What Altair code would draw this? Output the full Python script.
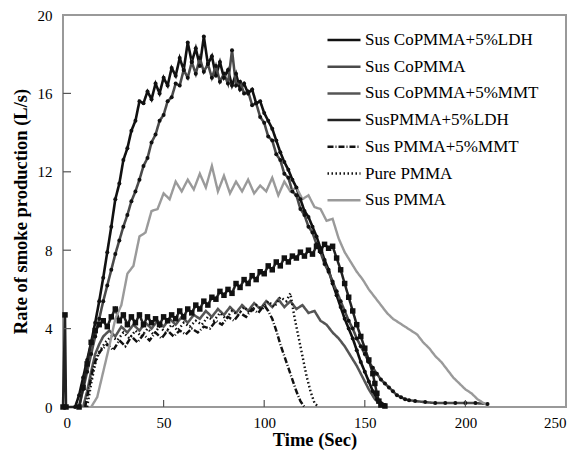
import altair as alt
import pandas as pd

# ---- data ----
series_names = ["Sus CoPMMA+5%LDH", "Sus CoPMMA", "Sus CoPMMA+5%MMT", "SusPMMA+5%LDH",
                "Sus PMMA+5%MMT", "Pure PMMA", "Sus PMMA"]

t_colpmma_ldh = [6, 8, 10, 12, 14, 16, 18, 20, 22, 24, 26, 28, 30, 32, 34, 36, 38, 40, 42, 44, 46, 48, 50,
                 52, 54, 56, 58, 60, 62, 64, 66, 68, 70, 72, 74, 76, 78, 80, 82, 84, 86, 88, 90, 92, 94, 96,
                 98, 100, 102, 104, 106, 108, 110, 112, 114, 116, 118, 120, 122, 124, 126, 128, 130, 132,
                 134, 136, 138, 140, 142, 144, 146, 148, 150, 152, 154, 156, 158, 160]
v_colpmma_ldh = [0, 0.6, 1.5, 2.4, 3.3, 4.3, 5.4, 6.6, 7.9, 9.2, 10.6, 11.4, 12.6, 13.2, 14.1, 14.6, 15.6,
                 15.5, 16.1, 15.7, 16.5, 16.0, 16.8, 16.4, 17.3, 16.9, 17.8, 17.2, 18.6, 17.6, 18.3, 17.4,
                 18.9, 17.5, 17.9, 16.9, 17.6, 16.8, 17.2, 16.4, 17.0, 16.2, 16.5, 16.0, 16.2, 15.5, 15.6,
                 15.0, 14.6, 14.2, 13.6, 13.0, 12.5, 12.1, 11.6, 11.2, 10.6, 10.0, 9.7, 9.2, 8.7, 8.1, 7.5,
                 7.0, 6.3, 5.7, 5.1, 4.5, 4.0, 3.5, 2.9, 2.3, 1.8, 1.3, 0.8, 0.4, 0.2, 0.1]

t_copmma = [8, 10, 12, 14, 16, 18, 20, 22, 24, 26, 28, 30, 32, 34, 36, 38, 40, 42, 44, 46, 48, 50, 52, 54,
            56, 58, 60, 62, 64, 66, 68, 70, 72, 74, 76, 78, 80, 82, 84, 86, 88, 90, 92, 94, 96, 98, 100,
            102, 104, 106, 108, 110, 112, 114, 116, 118, 120, 122, 124, 126, 128, 130, 132, 134, 136, 138,
            140, 142, 144, 146, 148, 150, 152, 154, 156, 158, 160, 162, 164, 166, 168, 170, 172, 175, 180,
            185, 190, 195, 200, 205, 211]
v_copmma = [0, 0.9, 1.8, 2.7, 3.6, 4.5, 5.4, 6.2, 7.0, 7.8, 8.5, 9.2, 9.8, 10.5, 11.0, 11.6, 12.3, 12.7,
            13.5, 13.9, 14.6, 14.9, 15.6, 15.8, 16.5, 16.4, 17.2, 16.8, 17.6, 17.0, 17.8, 17.1, 17.5, 16.8,
            17.4, 16.6, 17.0, 16.5, 18.2, 16.4, 16.6, 16.0, 16.1, 15.4, 15.5, 14.8, 14.5, 13.8, 13.6, 12.9,
            12.6, 11.9, 11.7, 11.0, 10.8, 10.1, 9.8, 9.2, 8.9, 8.3, 7.9, 7.3, 6.9, 6.4, 5.9, 5.4, 4.9, 4.4,
            4.0, 3.5, 3.1, 2.7, 2.3, 2.0, 1.7, 1.4, 1.2, 1.0, 0.8, 0.6, 0.5, 0.4, 0.35, 0.3, 0.25, 0.2, 0.2,
            0.2, 0.2, 0.2, 0.15]

t_copmma_mmt = [10, 12, 14, 16, 18, 20, 23, 26, 29, 32, 35, 38, 41, 44, 47, 50, 53, 56, 59, 62, 65, 68, 71,
                74, 77, 80, 83, 86, 89, 92, 95, 98, 101, 104, 107, 110, 113, 116, 119, 122, 125, 128, 131,
                134, 137, 140, 143, 146, 149, 152, 155, 158, 160]
v_copmma_mmt = [0, 0.8, 1.8, 2.7, 3.2, 3.6, 3.9, 3.6, 4.1, 3.8, 4.2, 3.9, 4.3, 4.0, 4.4, 4.1, 4.5, 4.2, 4.6,
                4.3, 4.7, 4.5, 4.9, 4.6, 5.0, 4.7, 5.1, 4.8, 5.2, 4.9, 5.3, 5.0, 5.4, 5.1, 5.5, 5.1, 5.4,
                5.0, 5.2, 4.8, 4.9, 4.4, 4.2, 3.8, 3.5, 3.1, 2.6, 2.1, 1.5, 0.9, 0.4, 0.1, 0]

t_pmma_ldh = [0, 1, 1.5, 8, 10, 12, 14, 16, 18, 20, 22, 24, 26, 28, 30, 32, 34, 36, 38, 40, 42, 44, 46, 48,
              50, 52, 54, 56, 58, 60, 62, 64, 66, 68, 70, 72, 74, 76, 78, 80, 82, 84, 86, 88, 90, 92, 94,
              96, 98, 100, 102, 104, 106, 108, 110, 112, 114, 116, 118, 120, 122, 124, 126, 128, 130, 132,
              134, 136, 138, 140, 142, 144, 146, 148, 150, 152, 154, 155, 156, 157, 158, 160]
v_pmma_ldh = [0, 4.7, 0, 0, 1.0, 2.2, 3.3, 3.9, 4.2, 4.4, 4.1, 4.6, 5.0, 4.4, 4.7, 4.2, 4.6, 4.3, 4.7, 4.2,
              4.6, 4.3, 4.5, 4.2, 4.6, 4.4, 4.7, 4.5, 4.9, 4.6, 5.0, 4.8, 5.2, 5.0, 5.4, 5.2, 5.6, 5.5, 5.9,
              5.7, 6.0, 5.8, 6.3, 6.1, 6.5, 6.3, 6.7, 6.5, 6.9, 6.8, 7.2, 7.0, 7.4, 7.2, 7.6, 7.4, 7.7, 7.6,
              7.9, 7.7, 8.0, 7.8, 8.2, 8.0, 8.3, 8.1, 8.2, 7.6, 7.0, 6.3, 5.6, 4.9, 4.2, 3.6, 3.0, 2.4, 1.7,
              1.2, 0.7, 0.3, 0.1, 0.05]

t_pmma_mmt = [11, 13, 15, 17, 19, 22, 25, 28, 31, 34, 37, 40, 43, 46, 49, 52, 55, 58, 61, 64, 67, 70, 73,
              76, 79, 82, 85, 88, 91, 94, 97, 100, 102, 104, 106, 108, 110, 112, 114, 116, 118, 120]
v_pmma_mmt = [0, 1.0, 2.0, 2.6, 2.9, 3.2, 2.9, 3.4, 3.1, 3.6, 3.3, 3.7, 3.4, 3.8, 3.5, 3.9, 3.6, 3.9, 3.7,
              4.0, 3.8, 4.1, 4.0, 4.4, 4.2, 4.6, 4.4, 4.8, 4.6, 5.0, 4.8, 5.2, 4.9, 4.5, 3.9, 3.2, 2.6, 2.0,
              1.4, 0.8, 0.3, 0]

t_pure = [12, 14, 16, 18, 21, 24, 27, 30, 33, 36, 39, 42, 45, 48, 51, 54, 57, 60, 63, 66, 69, 72, 75, 78,
          81, 84, 87, 90, 93, 96, 99, 102, 105, 108, 111, 113, 115, 117, 119, 121, 123, 125, 127]
v_pure = [0, 1.2, 2.2, 2.8, 3.3, 3.6, 3.4, 3.8, 3.5, 3.9, 3.6, 4.0, 3.7, 4.1, 3.8, 4.2, 3.9, 4.3, 4.1, 4.4,
          4.2, 4.6, 4.4, 4.8, 4.5, 4.9, 4.7, 5.1, 4.8, 5.2, 5.0, 5.4, 5.1, 5.6, 5.4, 5.8, 4.6, 3.6, 2.6,
          1.6, 0.8, 0.2, 0]

t_sus_pmma = [14, 17, 20, 23, 26, 29, 32, 35, 38, 41, 44, 47, 50, 53, 56, 59, 62, 65, 68, 71, 74, 77, 80,
              83, 86, 89, 92, 95, 98, 101, 104, 107, 110, 113, 116, 119, 122, 125, 128, 131, 134, 137, 140,
              143, 146, 149, 152, 155, 158, 161, 164, 167, 170, 173, 176, 179, 182, 185, 188, 191, 194, 197,
              200, 203, 206, 209, 211]
v_sus_pmma = [0, 0.5, 1.8, 3.1, 4.5, 5.2, 6.8, 7.2, 8.7, 8.9, 10.0, 10.1, 10.9, 10.6, 11.5, 11.0, 11.6,
              11.1, 11.9, 11.2, 12.3, 11.0, 11.8, 10.9, 11.5, 11.0, 11.6, 10.9, 11.3, 11.0, 11.7, 10.8, 11.5,
              11.0, 11.2, 10.6, 10.8, 10.2, 10.1, 9.5, 9.6, 8.6, 7.9, 7.4, 6.9, 6.5, 6.0, 5.6, 5.2, 4.8,
              4.5, 4.3, 4.1, 3.9, 3.7, 3.3, 3.0, 2.6, 2.3, 1.9, 1.5, 1.2, 0.9, 0.7, 0.4, 0.2, 0.1]

y_ticks = [0, 4, 8, 12, 16, 20]
x_ticks = [0, 50, 100, 150, 200, 250]

# ---- build table ----
pairs = [(t_colpmma_ldh, v_colpmma_ldh), (t_copmma, v_copmma), (t_copmma_mmt, v_copmma_mmt),
         (t_pmma_ldh, v_pmma_ldh), (t_pmma_mmt, v_pmma_mmt), (t_pure, v_pure), (t_sus_pmma, v_sus_pmma)]
rows = []
for name, (ts, vs) in zip(series_names, pairs):
    for i, (t, v) in enumerate(zip(ts, vs)):
        rows.append({"series": name, "t": t, "v": v, "i": i})
df = pd.DataFrame(rows)

colors = ["#111111", "#4a4a4a", "#555555", "#222222", "#111111", "#111111", "#9a9a9a"]
dashes = [[1, 0], [1, 0], [1, 0], [1, 0], [6, 2, 1, 2], [1.5, 2.5], [1, 0]]
widths = [2.6, 2.4, 1.0, 2.8, 1.0, 1.1, 3.0]

FONT = "Liberation Serif"
xs = alt.Scale(domain=[0, 250], nice=False)
ys = alt.Scale(domain=[0, 20], nice=False)

legend = alt.Legend(orient="none", legendX=263, legendY=7, title=None, symbolType="stroke",
                    symbolSize=1090, labelFontSize=17, labelFont=FONT, labelColor="black",
                    labelOffset=3, rowPadding=0.7, labelLimit=300)

x_enc = alt.X("t:Q", scale=xs, title="Time (Sec)",
              axis=alt.Axis(values=x_ticks, grid=False, domain=False, ticks=False, tickSize=0,
                            labelPadding=8, labelFont=FONT, labelFontSize=15, labelColor="black",
                            titleFont=FONT, titleFontSize=18.5, titleFontWeight="bold",
                            titleColor="black", titlePadding=0))
y_enc = alt.Y("v:Q", scale=ys, title="Rate of smoke production (L/s)",
              axis=alt.Axis(values=y_ticks, grid=False, domain=False, ticks=False, tickSize=0,
                            labelPadding=11, labelFont=FONT, labelFontSize=15, labelColor="black",
                            titleFont=FONT, titleFontSize=18.5, titleFontWeight="bold",
                            titleColor="black", titlePadding=7))

lines = alt.Chart(df).mark_line(interpolate="linear").encode(
    x=x_enc, y=y_enc,
    color=alt.Color("series:N", scale=alt.Scale(domain=series_names, range=colors), legend=legend),
    strokeDash=alt.StrokeDash("series:N", scale=alt.Scale(domain=series_names, range=dashes), legend=legend),
    strokeWidth=alt.StrokeWidth("series:N", scale=alt.Scale(domain=series_names, range=widths), legend=legend),
    order="i:Q",
)

pts_small = alt.Chart(df).transform_filter(
    alt.FieldOneOfPredicate(field="series", oneOf=series_names[:2])
).mark_point(filled=True, size=16, color="#111111", opacity=1).encode(x="t:Q", y="v:Q")

pts_sq = alt.Chart(df).transform_filter(
    alt.FieldEqualPredicate(field="series", equal=series_names[3])
).mark_point(filled=True, shape="square", size=30, color="#111111", opacity=1).encode(x="t:Q", y="v:Q")

ytick_df = pd.DataFrame({"v": y_ticks[1:-1]})
xtick_df = pd.DataFrame({"t": x_ticks[1:-1]})
yticks = alt.Chart(ytick_df).mark_rule(color="#555555", strokeWidth=1.2).encode(
    y="v:Q", x=alt.value(0), x2=alt.value(8))
xticks = alt.Chart(xtick_df).mark_rule(color="#555555", strokeWidth=1.2).encode(
    x="t:Q", y=alt.value(392), y2=alt.value(385))

chart = alt.layer(lines, pts_small, pts_sq, yticks, xticks).properties(
    width=503, height=392,
    autosize=alt.AutoSizeParams(type="none"),
    padding={"left": 63, "top": 15, "right": 13, "bottom": 52},
    background="white",
).configure_view(stroke="#999999", strokeWidth=2)

chart.save("out.html", embed_options={"renderer": "svg", "actions": False})
